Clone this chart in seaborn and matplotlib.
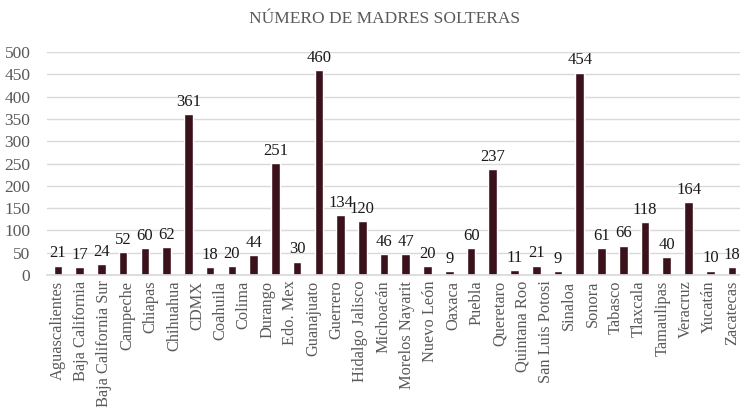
import numpy as np
import pandas as pd
import matplotlib
matplotlib.use("Agg")
import matplotlib.pyplot as plt
import seaborn as sns

states = ["Aguascalientes", "Baja California", "Baja California Sur", "Campeche",
          "Chiapas", "Chihuahua", "CDMX", "Coahuila", "Colima", "Durango",
          "Edo. Mex", "Guanajuato", "Guerrero", "Hidalgo", "Jalisco", "Michoacán",
          "Morelos", "Nayarit", "Nuevo León", "Oaxaca", "Puebla", "Queretaro",
          "Quintana Roo", "San Luis Potosí", "Sinaloa", "Sonora", "Tabasco",
          "Tlaxcala", "Tamaulipas", "Veracruz", "Yucatán", "Zacatecas"]
values = [21, 17, 24, 52, 60, 62, 361, 18, 20, 44, 251, 30, 460, 134, 120, 46,
          47, 20, 9, 60, 237, 11, 21, 9, 454, 61, 66, 118, 40, 164, 10, 18]
tick_labels = ["Aguascalientes", "Baja California", "Baja California Sur", "Campeche",
               "Chiapas", "Chihuahua", "CDMX", "Coahuila", "Colima", "Durango",
               "Edo. Mex", "Guanajuato", "Guerrero", "Hidalgo Jalisco", "Michoacán",
               "Morelos Nayarit", "Nuevo León", "Oaxaca", "Puebla", "Queretaro",
               "Quintana Roo", "San Luis Potosi", "Sinaloa", "Sonora", "Tabasco",
               "Tlaxcala", "Tamaulipas", "Veracruz", "Yucatán", "Zacatecas"]
y_ticks = [0, 50, 100, 150, 200, 250, 300, 350, 400, 450, 500]
title = "NÚMERO DE MADRES SOLTERAS"

sns.set_theme(style="white")
plt.rcParams["font.family"] = ["Liberation Serif", "DejaVu Serif"]

df = pd.DataFrame({"estado": states, "valor": values})

fig = plt.figure(figsize=(7.4, 4.07), dpi=100)
ax = fig.add_axes([0.0635, 0.3243, 0.9405, 0.5479])

sns.barplot(data=df, x="estado", y="valor", color="#3b121b", width=0.4,
            saturation=1, ax=ax, order=states)

ax.set_ylim(0, 500)
ax.set_xlim(-0.5, len(states) - 0.5)
ax.set_yticks(y_ticks)
ax.set_yticklabels([str(t) for t in y_ticks], color="#595959", fontsize=12.5)
ax.yaxis.grid(True, color="#d9d9d9", linewidth=1)
ax.set_axisbelow(True)

pos = np.linspace(0, len(states) - 1, len(tick_labels))
ax.set_xticks(pos)
ax.set_xticklabels(tick_labels, rotation=90, color="#595959", fontsize=11.8)
ax.tick_params(axis="x", length=0, pad=4)
ax.tick_params(axis="y", length=0, pad=12)

for s in ["top", "right", "left"]:
    ax.spines[s].set_visible(False)
ax.spines["bottom"].set_color("#d9d9d9")
ax.set_xlabel("")
ax.set_ylabel("")

for c in ax.containers:
    ax.bar_label(c, labels=[str(v) for v in values], padding=3,
                 fontsize=12, color="#1a1a1a")

fig.text(0.52, 0.953, title, ha="center", va="center", fontsize=12.5, color="#595959")

fig.savefig("out.png", dpi=100)
